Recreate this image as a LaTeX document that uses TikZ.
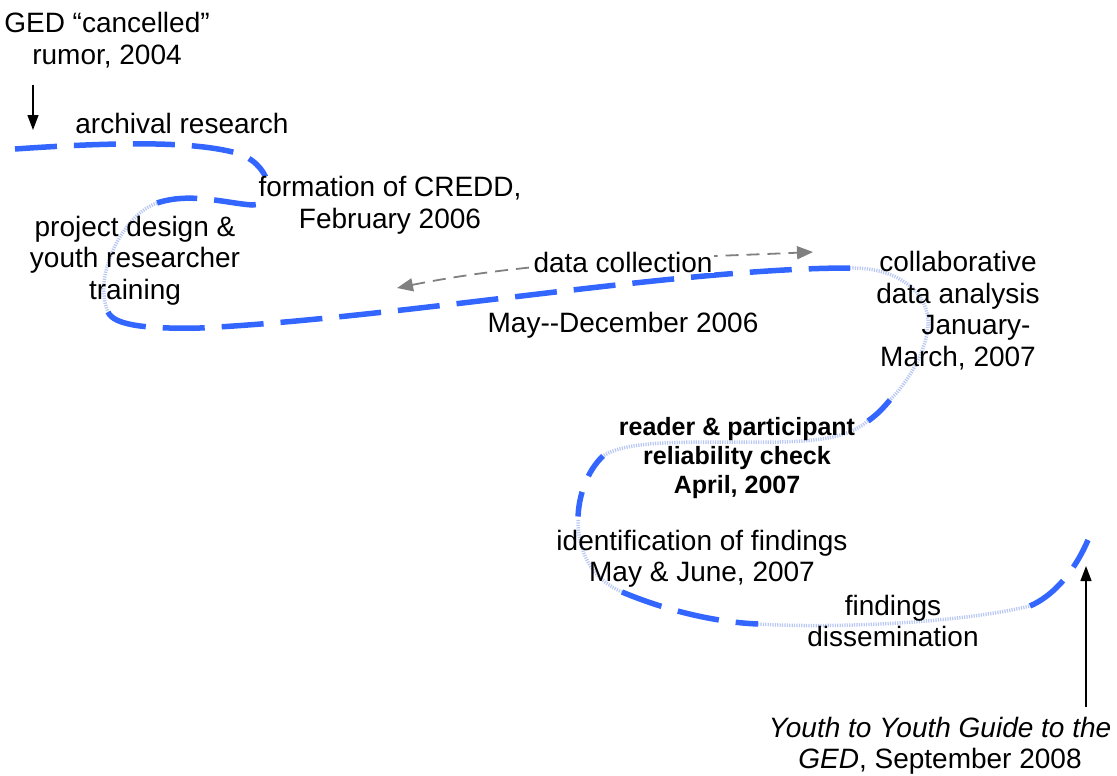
\documentclass[tikz,border=0pt]{standalone}
\usepackage{fontspec}
\setmainfont{Liberation Sans}
\usetikzlibrary{arrows.meta}
\definecolor{pathblue}{RGB}{51,102,255}
\definecolor{pathlight}{RGB}{185,200,242}
\definecolor{arrgray}{RGB}{128,128,128}
\tikzset{
  solidseg/.style={draw=pathblue, line width=5.5pt, dash pattern=on 42pt off 17pt},
  lightseg/.style={draw=pathlight, line width=3.5pt, dash pattern=on 1.2pt off 1.2pt},
  lbl/.style={font=\fontsize{28}{31.5}\selectfont, align=center, inner sep=0pt},
  blbl/.style={font=\fontsize{25}{29}\selectfont\bfseries, align=center, inner sep=0pt},
  blackarrow/.style={line width=1.3pt, -{Triangle[length=15pt,width=11pt]}},
  grayarrow/.style={draw=arrgray, line width=1.8pt, dash pattern=on 13pt off 8pt,
    {Triangle[length=16pt,width=13pt,fill=arrgray]}-{Triangle[length=16pt,width=13pt,fill=arrgray]}}
}
\begin{document}
\begin{tikzpicture}[x=1pt,y=-1pt]
\useasboundingbox (0,0) rectangle (1117,776);

% knots of the timeline curve
\coordinate (k0) at (15,149);
\coordinate (k1) at (240,154);
\coordinate (k2) at (252,205);
\coordinate (k3) at (157,203);
\coordinate (k4) at (108,312);
\coordinate (k5) at (200,328);
\coordinate (k6) at (850,268);
\coordinate (k7) at (928,325);
\coordinate (k8) at (890,400);
\coordinate (k9) at (868,421);
\coordinate (k10) at (780,442);
\coordinate (k11) at (603,456);
\coordinate (k12) at (578,520);
\coordinate (k13) at (622,592);
\coordinate (k14) at (758,624);
\coordinate (k15) at (1030,606);
\coordinate (k16) at (1088,540);

\draw[solidseg] (k0) .. controls (130,141) and (200,142) .. (k1)
  .. controls (275,168) and (275,205) .. (k2)
  .. controls (225,203) and (190,192) .. (k3);
\draw[lightseg] (k3) .. controls (124,214) and (92,275) .. (k4);
\draw[solidseg] (k4) .. controls (114,326) and (150,329) .. (k5)
  .. controls (400,318) and (680,268) .. (k6);
\draw[lightseg] (k6) .. controls (900,267) and (930,295) .. (k7)
  .. controls (926,355) and (905,385) .. (k8);
\draw[solidseg] (k8) .. controls (884,407) and (878,414) .. (k9);
\draw[lightseg] (k9) .. controls (852,434) and (830,441) .. (k10)
  .. controls (700,443) and (630,438) .. (k11);
\draw[solidseg, dash pattern=on 25pt off 17pt] (k11) .. controls (588,470) and (578,495) .. (k12);
\draw[lightseg] (k12) .. controls (578,550) and (590,578) .. (k13);
\draw[solidseg] (k13) .. controls (660,608) and (710,622) .. (k14);
\draw[lightseg] (k14) .. controls (820,628) and (950,625) .. (k15);
\draw[solidseg] (k15) .. controls (1055,595) and (1075,570) .. (k16);

% data collection double arrow
\coordinate (dcL) at (397,288);
\coordinate (dcR) at (813,252);
\draw[grayarrow] (dcL) .. controls (540,259) and (680,258) .. (dcR);

% labels
\node[lbl] (ged) at (107,40) {GED “cancelled”\\rumor, 2004};
\node[lbl, anchor=base] (archival) at (182,133) {archival research};
\node[lbl, fill=white, inner sep=1pt] (formation) at (390,205.5) {formation of CREDD,\\February 2006};
\node[lbl] (project) at (135,260.5) {project design \&\\youth researcher\\training};
\node[lbl, anchor=base, fill=white, inner sep=1pt] (datacoll) at (623,272) {data collection};
\node[lbl, anchor=base] (maydec) at (623,332) {May-{}-December 2006};
\node[lbl] (collab) at (958,310.6) {collaborative\\data analysis\\\hspace*{36pt}January-\\March, 2007};
\node[blbl] (reader) at (737,458) {reader \& participant\\reliability check\\April, 2007};
\node[lbl] (ident) at (702,559) {identification of findings\\May \& June, 2007};
\node[lbl] (findings) at (893,621) {findings\\dissemination};
\node[lbl] (guide) at (940,746) {\textit{Youth to Youth Guide to the}\\\textit{GED}, September 2008};

% start and end arrows
\coordinate (startTop) at (33,85);
\coordinate (startTip) at (33,130);
\draw[blackarrow] (startTop) -- (startTip);
\coordinate (endBottom) at (1086,707);
\coordinate (endTip) at (1086,566);
\draw[blackarrow] (endBottom) -- (endTip);
\end{tikzpicture}
\end{document}
